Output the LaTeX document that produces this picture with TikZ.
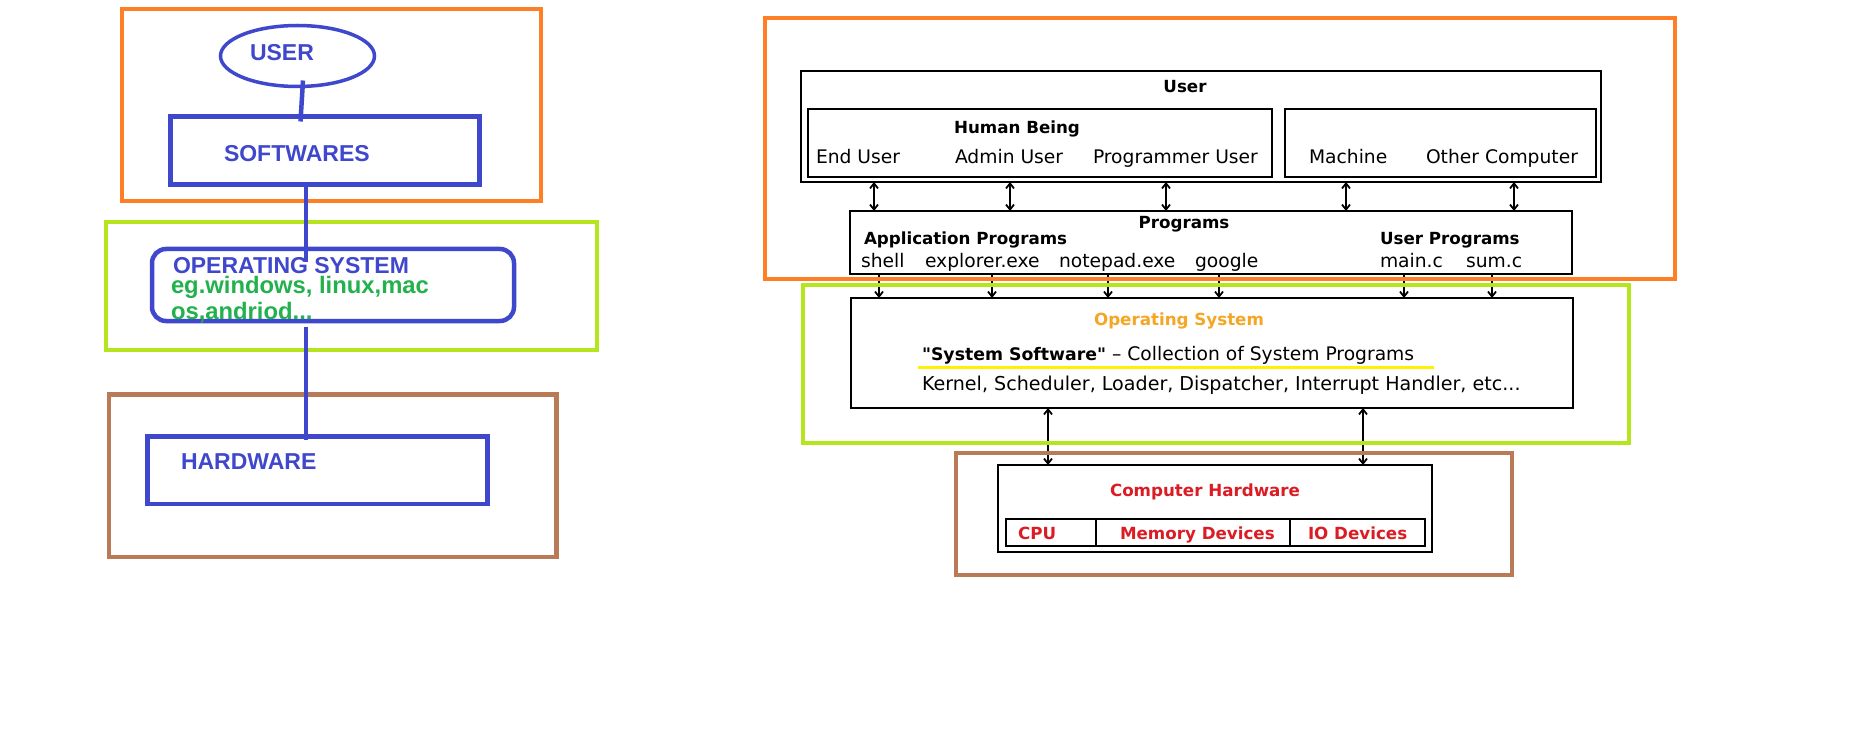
\documentclass[tikz,border=0pt]{standalone}
\usepackage{fontspec}
\setmainfont{DejaVu Sans}
\newfontfamily\arialf{Liberation Sans}
\newfontfamily\dejaf{DejaVu Sans}
\usetikzlibrary{shapes.geometric,arrows.meta,calc}
\definecolor{frameOrange}{RGB}{255,127,39}
\definecolor{frameLime}{RGB}{181,230,29}
\definecolor{frameBrown}{RGB}{185,122,87}
\definecolor{paintBlue}{RGB}{63,72,204}
\definecolor{paintGreen}{RGB}{34,177,76}
\definecolor{osOrange}{RGB}{245,166,35}
\definecolor{hwRed}{RGB}{220,28,36}
\definecolor{ulYellow}{RGB}{255,242,0}
\begin{document}
\begin{tikzpicture}[x=1pt,y=-1pt,
  txt/.style={inner sep=0pt,outer sep=0pt},
  lbl/.style={txt,font=\dejaf\fontsize{18.7}{22}\selectfont},
  blbl/.style={txt,font=\dejaf\bfseries\fontsize{16.7}{20}\selectfont},
  bluelbl/.style={txt,text=paintBlue,font=\arialf\bfseries\fontsize{23}{26}\selectfont},
  greenlbl/.style={txt,text=paintGreen,font=\arialf\bfseries\fontsize{23.8}{28}\selectfont},
  frame/.style={line width=4.5pt},
  bluebox/.style={draw=paintBlue,line width=4.5pt,inner sep=0pt,outer sep=0pt},
  blkbox/.style={draw=black,line width=2.2pt,inner sep=0pt,outer sep=0pt},
  blueconn/.style={draw=paintBlue,line width=4.5pt},
  arr/.style={line width=1.8pt,-{Straight Barb[length=5pt,width=8pt]}},
  barr/.style={line width=1.8pt,{Straight Barb[length=5pt,width=8pt]}-{Straight Barb[length=5pt,width=8pt]}}]
\useasboundingbox[fill=white] (0,0) rectangle (1852,743);

% ---------------- left diagram ----------------
\draw[frame,frameOrange] (122,9) rectangle (541,201);
\draw[frame,frameLime] (106,222) rectangle (597,350);
\draw[frame,frameBrown] (109,394.5) rectangle (556.5,557);

\node[ellipse,draw=paintBlue,line width=3.5pt,inner sep=0pt,outer sep=0pt,
      minimum width=154pt,minimum height=61pt] (usr) at (297.5,56) {};
\node[bluelbl,anchor=base west] (usrt) at (250,61) {USER};
\node[bluebox,minimum width=309pt,minimum height=68pt] (soft) at (325,150.5) {};
\node[bluelbl,anchor=base west] (softt) at (224,162) {SOFTWARES};
\node[bluebox,rounded corners=14pt,minimum width=362pt,minimum height=72pt] (os) at (333,285) {};
\node[bluelbl,anchor=base west] (ost) at (173,274) {OPERATING SYSTEM};
\node[greenlbl,anchor=base west] (eg1) at (171,294) {eg.windows, linux,mac};
\node[greenlbl,anchor=base west] (eg2) at (171,319.5) {os,andriod...};
\node[bluebox,minimum width=340pt,minimum height=67.5pt] (hw) at (317.5,470.25) {};
\node[bluelbl,anchor=base west] (hwt) at (181,469) {HARDWARE};

\draw[blueconn] ($(usr.south)+(5.5,-6)$) -- ($(usr.south |- soft.north)+(3,5)$);
\draw[blueconn] ($(soft.south)+(-19,-2)$) -- ($(soft.south |- os.north)+(-19,13)$);
\draw[blueconn] ($(os.south)+(-27,6)$) -- ($(os.south |- hw.north)+(-27,3)$);

% ---------------- right diagram ----------------
\node[blkbox,line width=2.6pt,minimum width=800pt,minimum height=111pt] (ub) at (1201,126.5) {};
\node[blbl,anchor=base] (ubt) at (1185,93) {User};
\node[blkbox,minimum width=464pt,minimum height=68pt] (hb) at (1040,143) {};
\node[blbl,anchor=base] (hbt) at (1017,134) {Human Being};
\node[lbl,anchor=base west] (eu) at (816,163.5) {End User};
\node[lbl,anchor=base west] (au) at (955,163.5) {Admin User};
\node[lbl,anchor=base west] (pu) at (1093,163.5) {Programmer User};
\node[blkbox,minimum width=311pt,minimum height=68pt] (mb) at (1440.5,143) {};
\node[lbl,anchor=base west] (mc) at (1309,163.5) {Machine};
\node[lbl,anchor=base west] (oc) at (1426,163.5) {Other Computer};

\node[blkbox,minimum width=722pt,minimum height=63pt] (pb) at (1211,242.5) {};
\node[blbl,anchor=base] (pbt) at (1184,229) {Programs};
\node[blbl,anchor=base west] (ap) at (864,245) {Application Programs};
\node[blbl,anchor=base west] (up) at (1380,245) {User Programs};
\node[lbl,anchor=base west] (p1) at (861,268) {shell};
\node[lbl,anchor=base west] (p2) at (925,268) {explorer.exe};
\node[lbl,anchor=base west] (p3) at (1059,268) {notepad.exe};
\node[lbl,anchor=base west] (p4) at (1195,268) {google};
\node[lbl,anchor=base west] (p5) at (1380,268) {main.c};
\node[lbl,anchor=base west] (p6) at (1466,268) {sum.c};

\node[blkbox,minimum width=722pt,minimum height=110pt] (osb) at (1212,353) {};
\node[blbl,anchor=base,text=osOrange] (osbt) at (1179,325) {Operating System};
\node[lbl,anchor=base west] (ss) at (922,360) {{\bfseries\fontsize{17.3}{22}\selectfont "System Software"} – Collection of System Programs};
\draw[ulYellow,line width=3pt] ($(ss.base west)+(-4,7)$) -- ++(516,0);
\node[txt,font=\dejaf\fontsize{19.1}{22}\selectfont,anchor=base west] (kn) at (922,390) {Kernel, Scheduler, Loader, Dispatcher, Interrupt Handler, etc...};

\node[blkbox,minimum width=434pt,minimum height=87pt] (chb) at (1215,508.5) {};
\node[blbl,anchor=base,text=hwRed] (chbt) at (1205,496) {Computer Hardware};
\node[blkbox,minimum width=90pt,minimum height=27pt] (cpu) at (1051,532.5) {};
\node[blkbox,minimum width=194pt,minimum height=27pt] (mem) at (1193,532.5) {};
\node[blkbox,minimum width=135pt,minimum height=27pt] (io) at (1357.5,532.5) {};
\node[blbl,anchor=base west,text=hwRed] (cput) at (1018,539) {CPU};
\node[blbl,anchor=base west,text=hwRed] (memt) at (1120,539) {Memory Devices};
\node[blbl,anchor=base west,text=hwRed] (iot) at (1308,539) {IO Devices};

\foreach \x in {874,1010,1166,1346,1514}
  \draw[barr] (\x,0 |- ub.south) -- (\x,0 |- pb.north);
\foreach \x in {879,992,1108,1219,1404,1492}
  \draw[arr] (\x,0 |- pb.south) -- (\x,0 |- osb.north);
\foreach \x in {1048,1363}
  \draw[barr] (\x,0 |- osb.south) -- (\x,0 |- chb.north);

\draw[frame,frameOrange] (765,18) rectangle (1675,279);
\draw[frame,frameLime] (803,285) rectangle (1629,443);
\draw[frame,frameBrown] (956,453) rectangle (1512,575);
\end{tikzpicture}
\end{document}
